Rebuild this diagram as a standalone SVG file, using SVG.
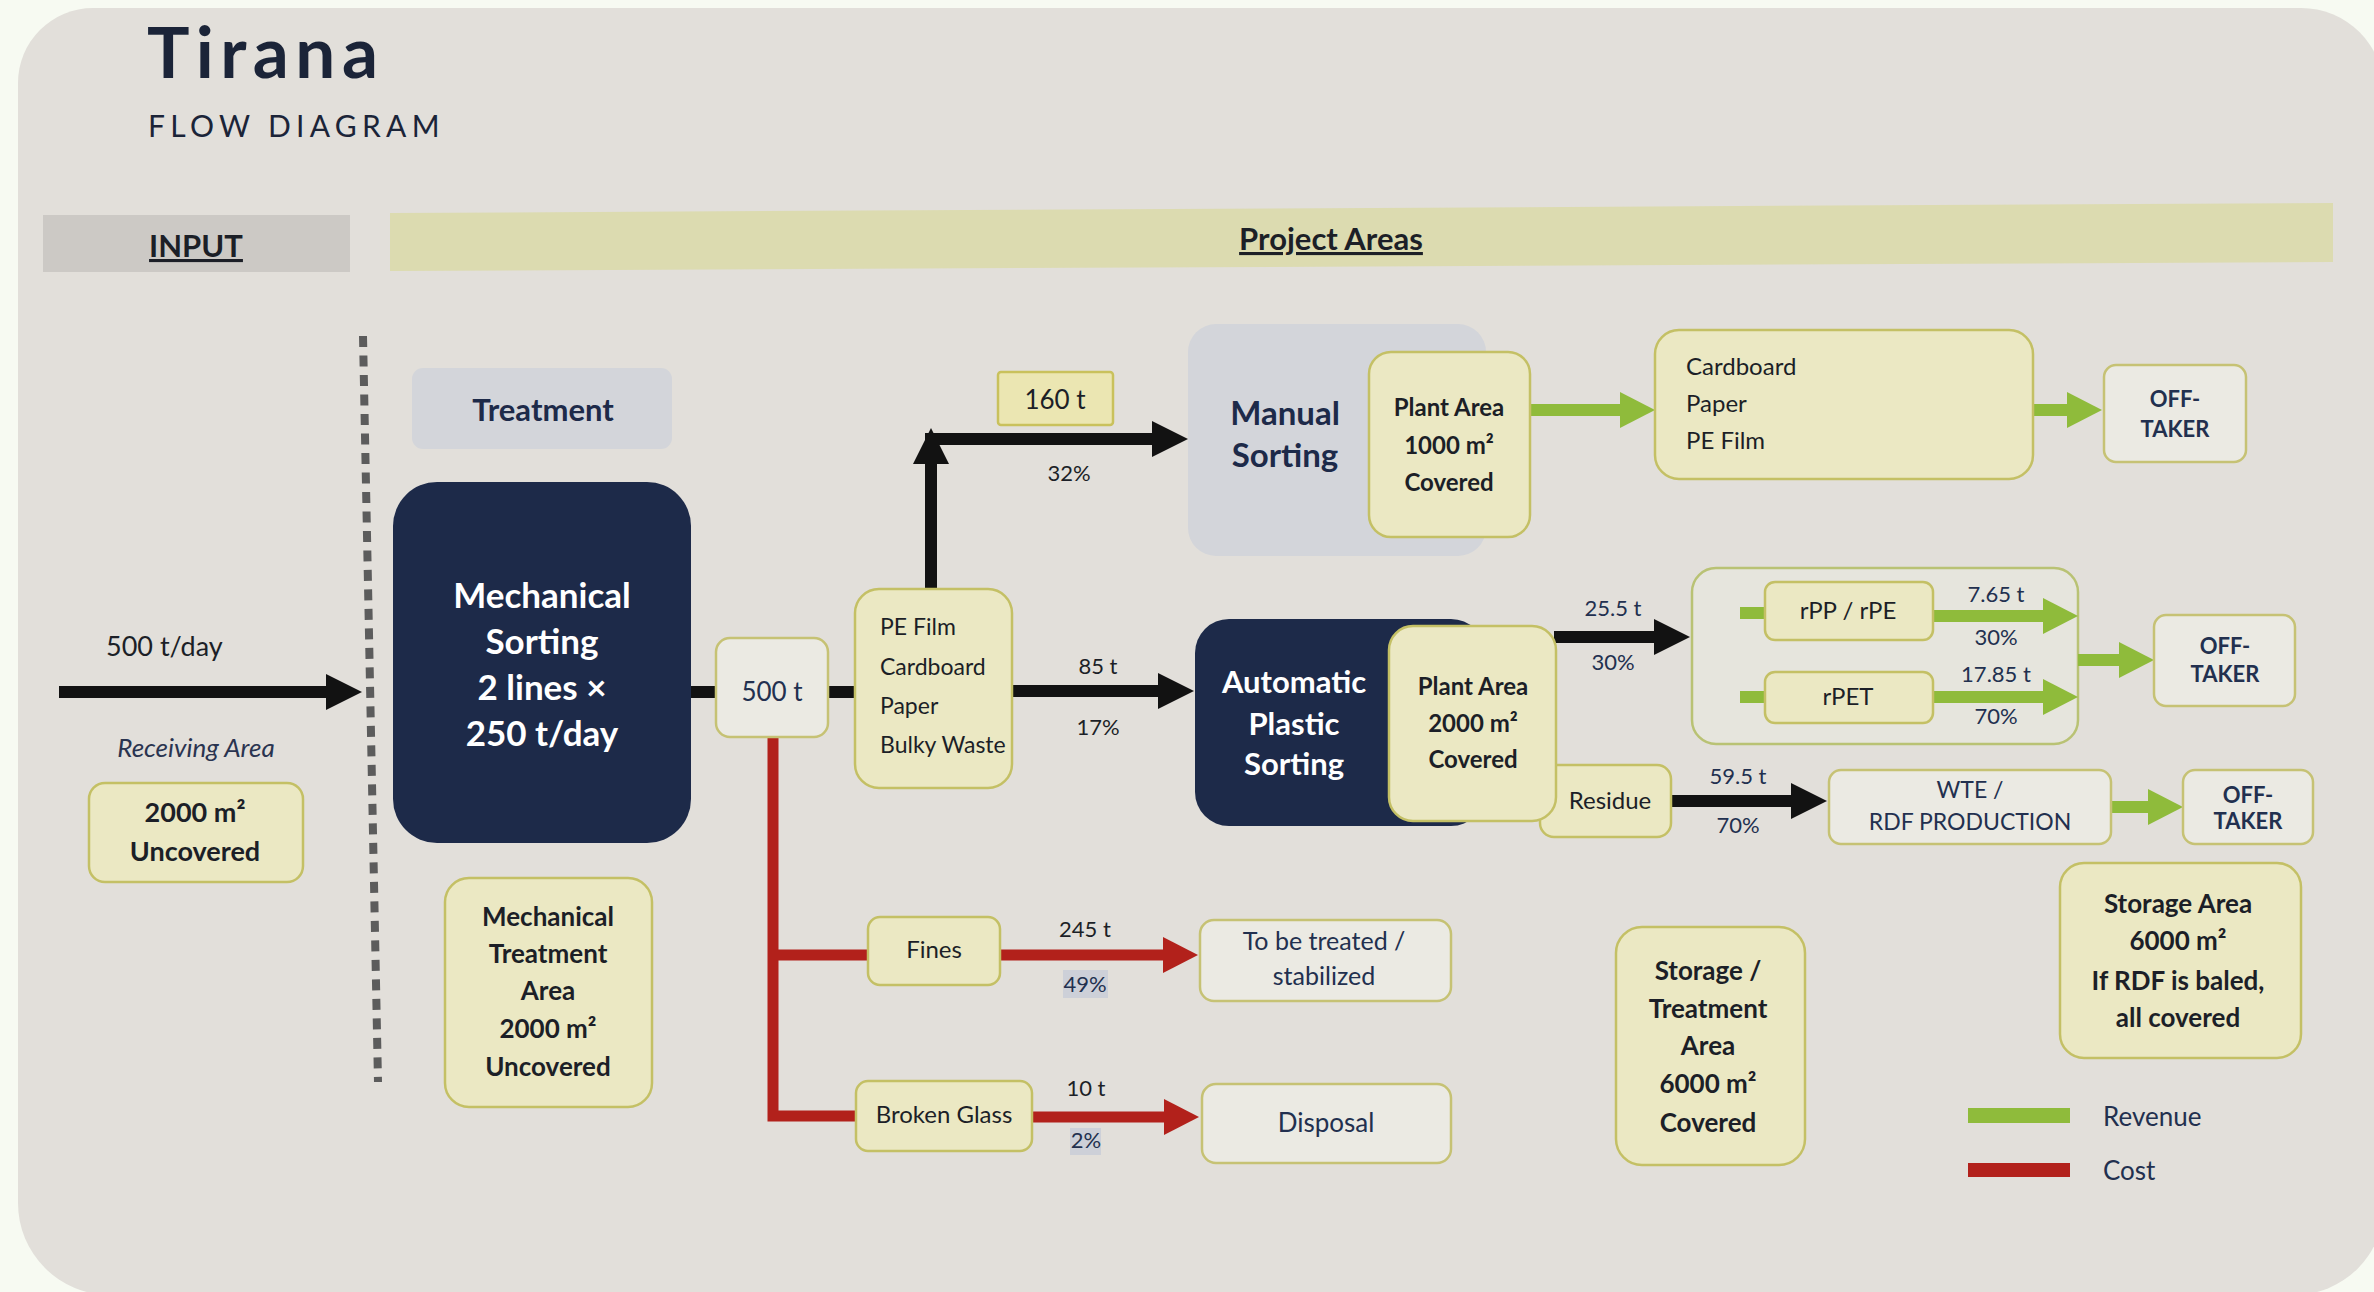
<svg xmlns="http://www.w3.org/2000/svg" width="2374" height="1292" viewBox="0 0 2374 1292">
<defs>
<style>
.t{font-family:Lato,'Liberation Sans','DejaVu Sans',sans-serif;fill:#1c1f27}
.b{font-weight:700}
.c{text-anchor:middle}
.w{fill:#ffffff}
.n{fill:#22304f}
.yb{fill:#ebe8c3;stroke:#c4c065;stroke-width:2.5}
.wb{fill:#ebeae3;stroke:#c6c274;stroke-width:2.5}
.nv{fill:#1d2a49}
.gy{fill:#d3d5da}
.blk{fill:none;stroke:#121212;stroke-width:12}
.grn{fill:none;stroke:#8fbb3b;stroke-width:12}
.red{fill:none;stroke:#b2211b;stroke-width:11}
.hl{fill:#cdd0d8}
</style>
<marker id="ab" markerUnits="userSpaceOnUse" markerWidth="40" markerHeight="40" refX="1" refY="18" orient="auto" overflow="visible"><path d="M0,0 L36,18 L0,36 Z" fill="#121212"/></marker>
<marker id="ag" markerUnits="userSpaceOnUse" markerWidth="40" markerHeight="40" refX="1" refY="18" orient="auto" overflow="visible"><path d="M0,0 L35,18 L0,36 Z" fill="#8fbb3b"/></marker>
<marker id="ar" markerUnits="userSpaceOnUse" markerWidth="40" markerHeight="40" refX="1" refY="18" orient="auto" overflow="visible"><path d="M0,0 L35,18 L0,36 Z" fill="#b2211b"/></marker>
</defs>
<rect x="0" y="0" width="2374" height="1292" fill="#f7faf2"/>
<path d="M93,8 H2301 A83,83 0 0 1 2384,91 V1205 A90,90 0 0 1 2294,1295 H110 A92,92 0 0 1 18,1203 V83 A75,75 0 0 1 93,8 Z" fill="#e2dfda"/>

<g id="title">
<text class="t b" x="147" y="78" font-size="71" letter-spacing="6.5" style="fill:#1b2438">Tirana</text>
<text class="t" x="148" y="137" font-size="30" letter-spacing="5.3" style="fill:#1b2438">FLOW DIAGRAM</text>
</g>

<g id="input-header">
<rect x="43" y="215" width="307" height="57" fill="#ccc9c5"/>
<text class="t b c" x="196" y="257" font-size="31" text-decoration="underline">INPUT</text>
</g>
<g id="project-areas-header">
<polygon points="390,213 2333,203 2333,262 390,271" fill="#dcdbb0"/>
<text class="t b c" x="1331" y="250" font-size="31" text-decoration="underline">Project Areas</text>
</g>

<line id="divider" x1="363" y1="336" x2="378" y2="1082" stroke="#5c5c5c" stroke-width="8" stroke-dasharray="11 8.5"/>

<g id="plastics-group">
<rect x="1692" y="568" width="386" height="176" rx="24" fill="#e6e5dd" stroke="#b9c274" stroke-width="2.5"/>
</g>

<g id="connectors">
<path class="blk" d="M59,692 H327" marker-end="url(#ab)"/>
<path class="blk" d="M689,692 H718"/>
<path class="blk" d="M826,692 H857"/>
<path class="blk" d="M1010,691 H1159" marker-end="url(#ab)"/>
<path class="blk" d="M931,591 V463" marker-end="url(#ab)"/>
<path class="blk" d="M925,439 H1153" marker-end="url(#ab)"/>
<path class="blk" d="M1554,637 H1655" marker-end="url(#ab)"/>
<path class="blk" d="M1669,801 H1792" marker-end="url(#ab)"/>
<path class="grn" d="M1528,410 H1621" marker-end="url(#ag)"/>
<path class="grn" d="M2031,410 H2068" marker-end="url(#ag)"/>
<path class="grn" d="M1740,613 H1767"/>
<path class="grn" d="M1740,697 H1767"/>
<path class="grn" d="M1931,616 H2044" marker-end="url(#ag)"/>
<path class="grn" d="M1931,697 H2044" marker-end="url(#ag)"/>
<path class="grn" d="M2078,660 H2120" marker-end="url(#ag)"/>
<path class="grn" d="M2109,807 H2149" marker-end="url(#ag)"/>
<path class="red" d="M773,735 V1116 H859"/>
<path class="red" d="M773,955 H870"/>
<path class="red" d="M998,955 H1164" marker-end="url(#ar)"/>
<path class="red" d="M1030,1117 H1165" marker-end="url(#ar)"/>
</g>

<g id="input-label">
<text class="t" x="106" y="656" font-size="27">500 t/day</text>
<text class="t c" x="196" y="757" font-size="26" font-style="italic" style="fill:#2a3450">Receiving Area</text>
</g>
<g id="receiving-area">
<rect class="yb" x="89" y="783" width="214" height="99" rx="16"/>
<text class="t b c" x="195" y="822" font-size="27">2000 m²</text>
<text class="t b c" x="195" y="861" font-size="27">Uncovered</text>
</g>
<g id="treatment-header">
<rect class="gy" x="412" y="368" width="260" height="81" rx="11"/>
<text class="t b c" x="543" y="421" font-size="31" style="fill:#1d2a49">Treatment</text>
</g>
<g id="mechanical-sorting">
<rect class="nv" x="393" y="482" width="298" height="361" rx="44"/>
<text class="t b c w" x="542" y="608" font-size="35">Mechanical</text>
<text class="t b c w" x="542" y="654" font-size="35">Sorting</text>
<text class="t b c w" x="542" y="700" font-size="35">2 lines ×</text>
<text class="t b c w" x="542" y="746" font-size="35">250 t/day</text>
</g>
<g id="mechanical-treatment-area">
<rect class="yb" x="445" y="878" width="207" height="229" rx="24"/>
<text class="t b c" x="548" y="926" font-size="26">Mechanical</text>
<text class="t b c" x="548" y="963" font-size="26">Treatment</text>
<text class="t b c" x="548" y="1000" font-size="26">Area</text>
<text class="t b c" x="548" y="1038" font-size="26">2000 m²</text>
<text class="t b c" x="548" y="1076" font-size="26">Uncovered</text>
</g>
<g id="node-500t">
<rect class="wb" x="716" y="638" width="112" height="99" rx="14"/>
<text class="t c n" x="772" y="701" font-size="26">500 t</text>
</g>
<g id="pe-film-mix">
<rect class="yb" x="855" y="589" width="157" height="199" rx="24"/>
<text class="t" x="880" y="635" font-size="23">PE Film</text>
<text class="t" x="880" y="675" font-size="23">Cardboard</text>
<text class="t" x="880" y="714" font-size="23">Paper</text>
<text class="t" x="880" y="753" font-size="23">Bulky Waste</text>
</g>
<g id="label-160t">
<rect x="998" y="372" width="115" height="53" rx="3" fill="#ebe6b2" stroke="#c9c15c" stroke-width="2.5"/>
<text class="t c" x="1055" y="409" font-size="26">160 t</text>
<text class="t c" x="1069" y="481" font-size="22">32%</text>
</g>
<g id="manual-sorting">
<rect class="gy" x="1188" y="324" width="298" height="232" rx="28"/>
<text class="t b c" x="1285" y="425" font-size="33" style="fill:#1d2a49">Manual</text>
<text class="t b c" x="1285" y="467" font-size="33" style="fill:#1d2a49">Sorting</text>
</g>
<g id="plant-area-1000">
<rect class="yb" x="1369" y="352" width="161" height="185" rx="22"/>
<text class="t b c" x="1449" y="416" font-size="24">Plant Area</text>
<text class="t b c" x="1449" y="454" font-size="24">1000 m²</text>
<text class="t b c" x="1449" y="491" font-size="24">Covered</text>
</g>
<g id="paper-products">
<rect class="yb" x="1655" y="330" width="378" height="149" rx="24"/>
<text class="t" x="1686" y="375" font-size="24">Cardboard</text>
<text class="t" x="1686" y="412" font-size="24">Paper</text>
<text class="t" x="1686" y="449" font-size="24">PE Film</text>
</g>
<g id="offtaker-1">
<rect class="wb" x="2104" y="365" width="142" height="97" rx="12"/>
<text class="t b c n" x="2175" y="407" font-size="22">OFF-</text>
<text class="t b c n" x="2175" y="437" font-size="22">TAKER</text>
</g>
<g id="flow-labels">
<text class="t c" x="1098" y="674" font-size="22">85 t</text>
<text class="t c" x="1098" y="735" font-size="22">17%</text>
<text class="t c n" x="1613" y="616" font-size="22">25.5 t</text>
<text class="t c n" x="1613" y="670" font-size="22">30%</text>
<text class="t c n" x="1996" y="602" font-size="22">7.65 t</text>
<text class="t c n" x="1996" y="645" font-size="22">30%</text>
<text class="t c n" x="1996" y="682" font-size="22">17.85 t</text>
<text class="t c n" x="1996" y="724" font-size="22">70%</text>
<text class="t c n" x="1738" y="784" font-size="22">59.5 t</text>
<text class="t c n" x="1738" y="833" font-size="22">70%</text>
<text class="t c" x="1085" y="937" font-size="22">245 t</text>
<rect class="hl" x="1063" y="970" width="45" height="28"/>
<text class="t c n" x="1085" y="992" font-size="22">49%</text>
<text class="t c" x="1086" y="1096" font-size="22">10 t</text>
<rect class="hl" x="1070" y="1128" width="31" height="27"/>
<text class="t c n" x="1086" y="1148" font-size="22">2%</text>
</g>
<g id="automatic-plastic-sorting">
<rect class="nv" x="1195" y="619" width="290" height="207" rx="34"/>
<text class="t b c w" x="1294" y="693" font-size="31">Automatic</text>
<text class="t b c w" x="1294" y="735" font-size="31">Plastic</text>
<text class="t b c w" x="1294" y="775" font-size="31">Sorting</text>
</g>
<g id="residue">
<rect class="yb" x="1540" y="765" width="131" height="72" rx="14"/>
<text class="t c" x="1610" y="809" font-size="24">Residue</text>
</g>
<g id="plant-area-2000">
<rect class="yb" x="1389" y="626" width="167" height="195" rx="24"/>
<text class="t b c" x="1473" y="695" font-size="24">Plant Area</text>
<text class="t b c" x="1473" y="732" font-size="24">2000 m²</text>
<text class="t b c" x="1473" y="768" font-size="24">Covered</text>
</g>
<g id="rpp-rpe">
<rect class="yb" x="1765" y="582" width="168" height="58" rx="10"/>
<text class="t c" x="1848" y="619" font-size="24">rPP / rPE</text>
</g>
<g id="rpet">
<rect class="yb" x="1765" y="672" width="168" height="51" rx="10"/>
<text class="t c" x="1848" y="705" font-size="24">rPET</text>
</g>
<g id="offtaker-2">
<rect class="wb" x="2154" y="615" width="141" height="91" rx="12"/>
<text class="t b c n" x="2225" y="654" font-size="22">OFF-</text>
<text class="t b c n" x="2225" y="682" font-size="22">TAKER</text>
</g>
<g id="wte-rdf">
<rect class="wb" x="1829" y="770" width="282" height="74" rx="12"/>
<text class="t c n" x="1970" y="798" font-size="23">WTE /</text>
<text class="t c n" x="1970" y="830" font-size="23">RDF PRODUCTION</text>
</g>
<g id="offtaker-3">
<rect class="wb" x="2183" y="770" width="130" height="74" rx="12"/>
<text class="t b c n" x="2248" y="803" font-size="22">OFF-</text>
<text class="t b c n" x="2248" y="829" font-size="22">TAKER</text>
</g>
<g id="storage-area">
<rect class="yb" x="2060" y="863" width="241" height="195" rx="24"/>
<text class="t b c" x="2178" y="913" font-size="26">Storage Area</text>
<text class="t b c" x="2178" y="950" font-size="26">6000 m²</text>
<text class="t b c" x="2178" y="990" font-size="26">If RDF is baled,</text>
<text class="t b c" x="2178" y="1027" font-size="26">all covered</text>
</g>
<g id="storage-treatment-area">
<rect class="yb" x="1616" y="927" width="189" height="238" rx="26"/>
<text class="t b c" x="1708" y="980" font-size="26">Storage /</text>
<text class="t b c" x="1708" y="1018" font-size="26">Treatment</text>
<text class="t b c" x="1708" y="1055" font-size="26">Area</text>
<text class="t b c" x="1708" y="1093" font-size="26">6000 m²</text>
<text class="t b c" x="1708" y="1132" font-size="26">Covered</text>
</g>
<g id="fines">
<rect class="yb" x="868" y="917" width="132" height="68" rx="12"/>
<text class="t c" x="934" y="958" font-size="24">Fines</text>
</g>
<g id="to-be-treated">
<rect class="wb" x="1200" y="920" width="251" height="81" rx="14"/>
<text class="t c n" x="1324" y="950" font-size="25">To be treated /</text>
<text class="t c n" x="1324" y="985" font-size="25">stabilized</text>
</g>
<g id="broken-glass">
<rect class="yb" x="856" y="1081" width="176" height="70" rx="12"/>
<text class="t c" x="944" y="1123" font-size="24">Broken Glass</text>
</g>
<g id="disposal">
<rect class="wb" x="1202" y="1084" width="249" height="79" rx="14"/>
<text class="t c n" x="1326" y="1132" font-size="26">Disposal</text>
</g>
<g id="legend">
<rect x="1968" y="1108" width="102" height="15" fill="#8fbb3b"/>
<text class="t n" x="2103" y="1126" font-size="26">Revenue</text>
<rect x="1968" y="1163" width="102" height="14" fill="#b2211b"/>
<text class="t n" x="2103" y="1180" font-size="26">Cost</text>
</g>
</svg>
